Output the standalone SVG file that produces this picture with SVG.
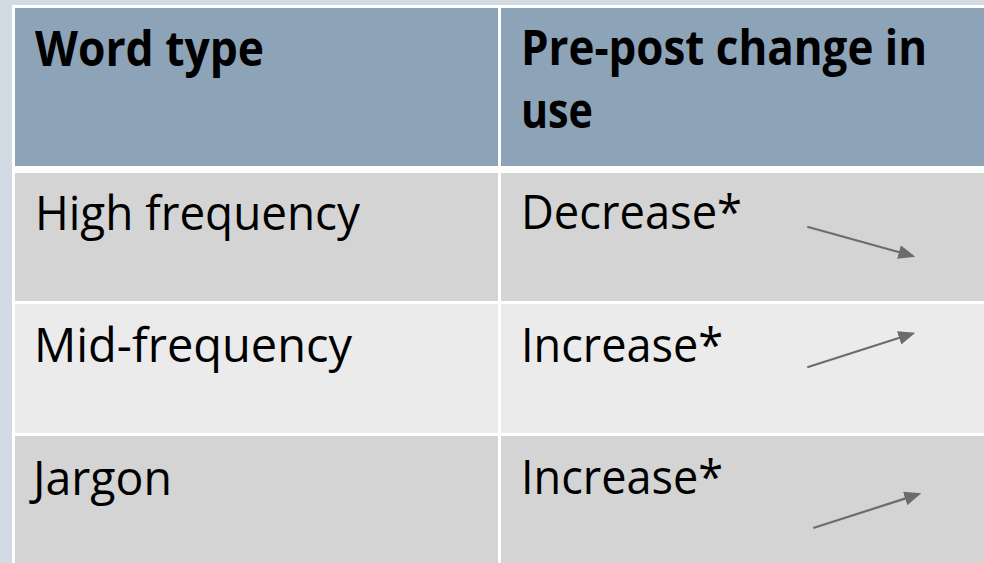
<svg xmlns="http://www.w3.org/2000/svg" width="984" height="563" viewBox="0 0 984 563">
<style>
.hdr{fill:#8da3b8}
.dark{fill:#d4d4d4}
.light{fill:#ebebeb}
.t{font-family:"Open Sans","Noto Sans","Liberation Sans",sans-serif;font-size:48px;fill:#000}
.b{font-weight:bold}
.arr{stroke:#6b6b70;stroke-width:2.2;fill:none;marker-end:url(#ah)}
</style>
<defs>
<marker id="ah" viewBox="0 0 17 14" refX="7" refY="7" markerWidth="17" markerHeight="14" markerUnits="userSpaceOnUse" orient="auto">
<path d="M0,0 L17,7 L0,14 z" fill="#6b6b70"/>
</marker>
</defs>
<rect x="0" y="0" width="984" height="563" fill="#d2dbe4"/>
<rect x="12" y="5" width="972" height="558" fill="#ffffff"/>
<g id="header-word-type">
<rect class="hdr" x="15" y="8" width="483" height="158"/>
<text class="t b" x="35" y="66" textLength="229" lengthAdjust="spacingAndGlyphs">Word type</text>
</g>
<g id="header-change">
<rect class="hdr" x="501" y="8" width="483" height="158"/>
<text class="t b" x="521" y="65" textLength="406" lengthAdjust="spacingAndGlyphs">Pre-post change in</text>
<text class="t b" x="521" y="128" textLength="72" lengthAdjust="spacingAndGlyphs">use</text>
</g>
<g id="row1-type">
<rect class="dark" x="15" y="173" width="483" height="128"/>
<text class="t" x="35" y="230" textLength="325" lengthAdjust="spacingAndGlyphs">High frequency</text>
</g>
<g id="row1-change">
<rect class="dark" x="501" y="173" width="483" height="128"/>
<text class="t" x="521" y="229" textLength="221" lengthAdjust="spacingAndGlyphs">Decrease*</text>
</g>
<g id="row2-type">
<rect class="light" x="15" y="304" width="483" height="129"/>
<text class="t" x="34" y="362" textLength="318" lengthAdjust="spacingAndGlyphs">Mid-frequency</text>
</g>
<g id="row2-change">
<rect class="light" x="501" y="304" width="483" height="129"/>
<text class="t" x="521" y="362" textLength="202" lengthAdjust="spacingAndGlyphs">Increase*</text>
</g>
<g id="row3-type">
<rect class="dark" x="15" y="436" width="483" height="127"/>
<text class="t" x="33" y="495" textLength="139" lengthAdjust="spacingAndGlyphs">Jargon</text>
</g>
<g id="row3-change">
<rect class="dark" x="501" y="436" width="483" height="127"/>
<text class="t" x="521" y="494" textLength="202" lengthAdjust="spacingAndGlyphs">Increase*</text>
</g>
<g id="connectors">
<line class="arr" x1="807.3" y1="226.7" x2="905.7" y2="254.0"/>
<line class="arr" x1="807.3" y1="367.3" x2="905.8" y2="335.7"/>
<line class="arr" x1="813.3" y1="528" x2="911.8" y2="496.4"/>
</g>
</svg>
